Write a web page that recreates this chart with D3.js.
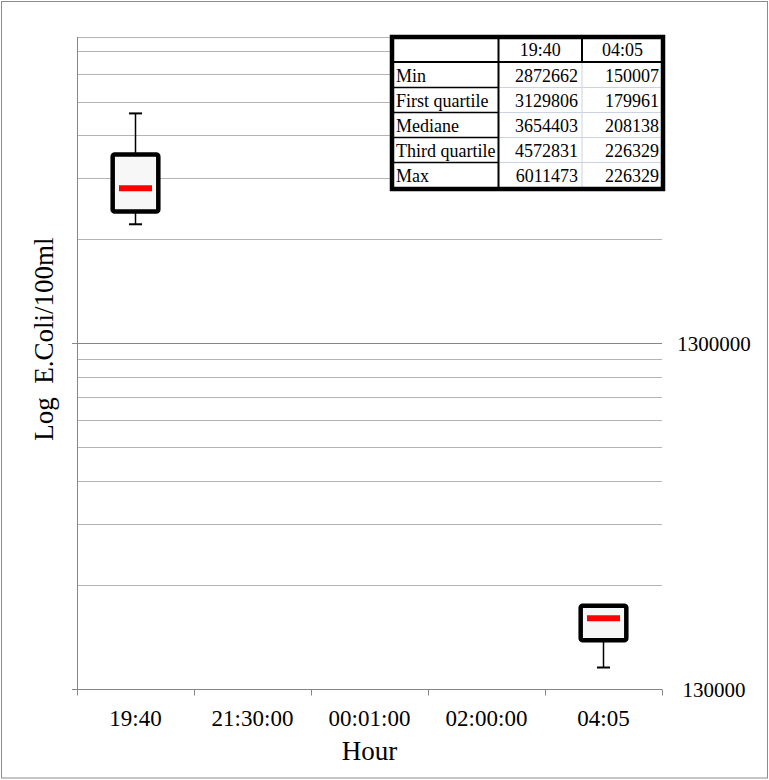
<!DOCTYPE html>
<html>
<head>
<meta charset="utf-8">
<script src="https://cdn.jsdelivr.net/npm/d3@7"></script>
<style>
  body { margin: 0; background: #fff; }
  text { font-family: "Liberation Serif", "Times New Roman", serif; fill: #000; }
</style>
</head>
<body>
<svg id="chart" width="769" height="780"></svg>
<script>
// data
var categories = ["19:40", "21:30:00", "00:01:00", "02:00:00", "04:05"];
var boxCats = ["19:40", "04:05"];
var mins    = [2872662, 150007];
var q1s     = [3129806, 179961];
var medians = [3654403, 208138];
var q3s     = [4572831, 226329];
var maxs    = [6011473, 226329];
var statLabels = ["Min", "First quartile", "Mediane", "Third quartile", "Max"];
var yTicks = [130000, 1300000];
var yDomain = [130000, 10000000];

var margin = {top: 37, right: 107, bottom: 91, left: 77},
    width = 769,
    height = 780;

var svg = d3.select("#chart");

// outer frame
svg.append("rect")
   .attr("x", 1.5).attr("y", 1.5)
   .attr("width", width - 3).attr("height", height - 3.5)
   .attr("fill", "#fff").attr("stroke", "#8c8c8c").attr("stroke-width", 1);

var x = d3.scaleBand()
          .domain(categories)
          .range([margin.left, width - margin.right]);

var y = d3.scaleLog()
          .domain(yDomain)
          .range([height - margin.bottom, margin.top]);

// gridlines: minor (2..9 per decade) and major at decade ticks
var minor = [];
yTicks.forEach(function(t) {
  for (var k = 2; k <= 9; k++) {
    if (t * k < yDomain[1]) minor.push(t * k);
  }
});
minor.push(yDomain[1]);

svg.append("g").selectAll("line")
   .data(minor)
   .join("line")
   .attr("x1", margin.left).attr("x2", width - margin.right)
   .attr("y1", function(d) { return Math.round(y(d)) + 0.5; })
   .attr("y2", function(d) { return Math.round(y(d)) + 0.5; })
   .attr("stroke", "#b4b4b4").attr("stroke-width", 1);

svg.append("g").selectAll("line")
   .data(yTicks.slice(1))
   .join("line")
   .attr("x1", margin.left - 5).attr("x2", width - margin.right)
   .attr("y1", function(d) { return Math.round(y(d)) + 0.5; })
   .attr("y2", function(d) { return Math.round(y(d)) + 0.5; })
   .attr("stroke", "#868686").attr("stroke-width", 1);

// left axis line
svg.append("line")
   .attr("x1", margin.left + 0.5).attr("x2", margin.left + 0.5)
   .attr("y1", margin.top).attr("y2", height - margin.bottom + 6)
   .attr("stroke", "#868686");

// x axis
var xAxisG = svg.append("g")
   .attr("transform", "translate(0," + (Math.round(y(yDomain[0])) + 0.5) + ")");
xAxisG.append("line")
   .attr("x1", margin.left - 5).attr("x2", width - margin.right)
   .attr("stroke", "#868686");
var bounds = categories.map(function(c) { return x(c); }).concat([width - margin.right]);
xAxisG.selectAll(".tk")
   .data(bounds)
   .join("line")
   .attr("class", "tk")
   .attr("x1", function(d) { return Math.round(d) + 0.5; })
   .attr("x2", function(d) { return Math.round(d) + 0.5; })
   .attr("y1", 0).attr("y2", 6)
   .attr("stroke", "#868686");
xAxisG.selectAll(".lbl")
   .data(categories)
   .join("text")
   .attr("class", "lbl")
   .attr("x", function(d) { return x(d) + x.bandwidth() / 2; })
   .attr("y", 36)
   .attr("text-anchor", "middle")
   .style("font-size", "23px")
   .text(function(d) { return d; });

// right-side tick labels
svg.append("g").selectAll("text")
   .data(yTicks)
   .join("text")
   .attr("x", 714)
   .attr("y", function(d) { return y(d) + 8; })
   .attr("text-anchor", "middle")
   .style("font-size", "21px")
   .text(function(d) { return d3.format("d")(d); });

// axis titles
svg.append("text")
   .attr("x", (margin.left + width - margin.right) / 2)
   .attr("y", 760)
   .attr("text-anchor", "middle")
   .style("font-size", "27px")
   .text("Hour");

svg.append("text")
   .attr("transform", "translate(53,339) rotate(-90)")
   .attr("text-anchor", "middle")
   .style("font-size", "27px")
   .style("white-space", "pre")
   .attr("xml:space", "preserve")
   .text("Log  E.Coli/100ml");

// box plots
var boxW = x.bandwidth() * 0.39,
    capW = 13,
    medW = 33;

var boxes = boxCats.map(function(c, i) {
  return {cat: c, min: mins[i], q1: q1s[i], med: medians[i], q3: q3s[i], max: maxs[i]};
});

var g = svg.append("g").selectAll("g")
   .data(boxes)
   .join("g")
   .attr("transform", function(d) { return "translate(" + (x(d.cat) + x.bandwidth() / 2) + ",0)"; });

g.append("line")
 .attr("x1", 0).attr("x2", 0)
 .attr("y1", function(d) { return y(d.min); })
 .attr("y2", function(d) { return y(d.max); })
 .attr("stroke", "#000").attr("stroke-width", 1.5);
g.append("line")
 .attr("x1", -capW / 2).attr("x2", capW / 2)
 .attr("y1", function(d) { return y(d.min); })
 .attr("y2", function(d) { return y(d.min); })
 .attr("stroke", "#000").attr("stroke-width", 2);
g.append("line")
 .attr("x1", -capW / 2).attr("x2", capW / 2)
 .attr("y1", function(d) { return y(d.max); })
 .attr("y2", function(d) { return y(d.max); })
 .attr("stroke", "#000").attr("stroke-width", 2);

g.append("rect")
 .attr("x", -boxW / 2)
 .attr("y", function(d) { return y(d.q3); })
 .attr("width", boxW)
 .attr("height", function(d) { return y(d.q1) - y(d.q3); })
 .attr("rx", 2)
 .attr("fill", "#f7f7f7").attr("stroke", "#000").attr("stroke-width", 4.5);

g.append("line")
 .attr("x1", -medW / 2).attr("x2", medW / 2)
 .attr("y1", function(d) { return y(d.med); })
 .attr("y2", function(d) { return y(d.med); })
 .attr("stroke", "#ff0000").attr("stroke-width", 6);

// statistics table
var tbl = {x0: 392, x1: 498.5, x2: 582, x3: 663, top: 37, rowH: 25},
    tableG = svg.append("g");

var rowsY = statLabels.map(function(s, i) { return tbl.top + tbl.rowH * (i + 1); });
var bottom = tbl.top + tbl.rowH * (statLabels.length + 1) + 2;

tableG.append("rect")
   .attr("x", tbl.x0).attr("y", tbl.top)
   .attr("width", tbl.x3 - tbl.x0).attr("height", bottom - tbl.top)
   .attr("fill", "#fff");

// light inner grid for data cells
tableG.selectAll(".lg")
   .data(rowsY.slice(1))
   .join("line")
   .attr("x1", tbl.x1).attr("x2", tbl.x3)
   .attr("y1", function(d) { return d + 0.5; })
   .attr("y2", function(d) { return d + 0.5; })
   .attr("stroke", "#c9d3e3").attr("stroke-width", 1);
tableG.append("line")
   .attr("x1", tbl.x2).attr("x2", tbl.x2)
   .attr("y1", rowsY[0]).attr("y2", bottom)
   .attr("stroke", "#c9d3e3").attr("stroke-width", 1);

// black borders on label column
tableG.selectAll(".bl")
   .data(rowsY.slice(1))
   .join("line")
   .attr("x1", tbl.x0).attr("x2", tbl.x1)
   .attr("y1", function(d) { return d + 0.5; })
   .attr("y2", function(d) { return d + 0.5; })
   .attr("stroke", "#000").attr("stroke-width", 1.5);
tableG.append("line")
   .attr("x1", tbl.x0).attr("x2", tbl.x3)
   .attr("y1", rowsY[0]).attr("y2", rowsY[0])
   .attr("stroke", "#000").attr("stroke-width", 2);
tableG.append("line")
   .attr("x1", tbl.x1).attr("x2", tbl.x1)
   .attr("y1", tbl.top).attr("y2", bottom)
   .attr("stroke", "#000").attr("stroke-width", 2);
tableG.append("line")
   .attr("x1", tbl.x2).attr("x2", tbl.x2)
   .attr("y1", tbl.top).attr("y2", rowsY[0])
   .attr("stroke", "#000").attr("stroke-width", 2);
tableG.append("rect")
   .attr("x", tbl.x0).attr("y", tbl.top)
   .attr("width", tbl.x3 - tbl.x0).attr("height", bottom - tbl.top)
   .attr("fill", "none").attr("stroke", "#000").attr("stroke-width", 4.5);

// header
tableG.selectAll(".hd")
   .data(boxCats)
   .join("text")
   .attr("x", function(d, i) { return i === 0 ? (tbl.x1 + tbl.x2) / 2 : (tbl.x2 + tbl.x3) / 2; })
   .attr("y", rowsY[0] - 6)
   .attr("text-anchor", "middle")
   .style("font-size", "18px")
   .text(function(d) { return d; });

var cols = [mins, q1s, medians, q3s, maxs];
statLabels.forEach(function(lbl, i) {
  var by = rowsY[i] + tbl.rowH - 5;
  tableG.append("text")
     .attr("x", 396).attr("y", by)
     .style("font-size", "18px")
     .text(lbl);
  tableG.append("text")
     .attr("x", 578).attr("y", by)
     .attr("text-anchor", "end")
     .style("font-size", "18px")
     .text(cols[i][0]);
  tableG.append("text")
     .attr("x", 659).attr("y", by)
     .attr("text-anchor", "end")
     .style("font-size", "18px")
     .text(cols[i][1]);
});
</script>
</body>
</html>
